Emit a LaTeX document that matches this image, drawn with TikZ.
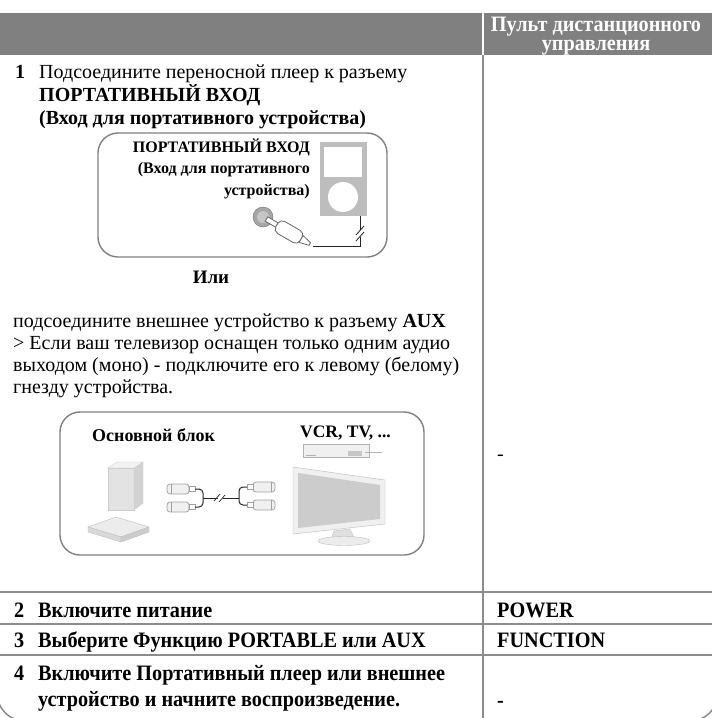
\documentclass[tikz,border=0pt]{standalone}
\usepackage{fontspec}
\setmainfont{Liberation Serif}
\newfontfamily\narrowserif[FakeStretch=0.92]{Liberation Serif}
\usetikzlibrary{positioning,calc}

\definecolor{barfill}{HTML}{808080}
\definecolor{rulegray}{HTML}{8C8C8C}
\definecolor{devgray}{HTML}{BDBDBD}

\tikzset{
  txt/.style={inner sep=0pt, anchor=base west, font=\fontsize{20}{23}\selectfont},
  txtb/.style={txt, font=\fontsize{20}{23}\selectfont\bfseries},
  rowtxt/.style={txt, font=\fontsize{22}{25}\narrowserif\bfseries},
  hdrtxt/.style={inner sep=0pt, anchor=base, text=white, font=\fontsize{22}{25}\narrowserif\bfseries},
  boxtxt/.style={inner sep=0pt, anchor=base east, font=\fontsize{16}{18}\selectfont\bfseries},
  captxt/.style={inner sep=0pt, anchor=base west, font=\fontsize{18}{20}\selectfont\bfseries},
  tabrule/.style={draw=rulegray, line width=1.5pt},
  panel/.style={draw=gray, line width=1.4pt, rounded corners=20pt},
  cable/.style={draw=black!85, line width=1pt},
  plugpart/.style={draw=gray!80!black, fill=white, line width=0.8pt},
  rcabody/.style={draw=gray!75, fill=gray!12, line width=0.7pt, rounded corners=3pt},
}

\begin{document}
\begin{tikzpicture}[x=1pt, y=-1pt]
\useasboundingbox (0,0) rectangle (712,718);

% header
\fill[barfill] (0,13) rectangle (712,55);
\draw[white, line width=1.5pt] (483,13) -- (483,55);
\node[hdrtxt] (remote) at (596,31) {Пульт дистанционного};
\node[hdrtxt] (remote2) at (596,50) {управления};

% table
\draw[tabrule] (483,55) -- (483,718);
\foreach \y in {592,624,655}
  \draw[tabrule] (0,\y) -- (712,\y);
\draw[tabrule, rounded corners=28pt] (-3,640) -- (-3,721) -- (718,721) -- (718,640);

% step 1
\node[txtb] (n1) at (15,78) {1};
\node[txt] (s1a) at (39,78) {Подсоедините переносной плеер к разъему};
\node[txtb] (s1b) at (39,101) {ПОРТАТИВНЫЙ ВХОД};
\node[txtb] (s1c) at (39,124) {(Вход для портативного устройства)};

\draw[panel] (98,133) rectangle (387,257);
\node[boxtxt] (p1) at (310,152) {ПОРТАТИВНЫЙ ВХОД};
\node[boxtxt] (p2) at (310,173) {(Вход для портативного};
\node[boxtxt] (p3) at (310,195) {устройства)};

\node[fill=devgray, minimum width=47pt, minimum height=74pt, inner sep=0pt] (player) at (343.5,179) {};
\fill[white] (324,147) rectangle (362,177);
\fill[white] (343,197) circle (15);
\coordinate (pin) at ($(player.south east)+(-7,0)$);

\node[circle, fill=gray!70, draw=gray!90!black, minimum size=20pt, inner sep=0pt] (jack) at (263,217) {};
\fill[gray!45] (jack.center) circle (6);
\begin{scope}[shift={(jack.center)}, rotate=-30]
  \draw[plugpart] (4,-2.5) rectangle (16,2.5);
  \draw[plugpart, rounded corners=5pt] (16,-7) rectangle (44,7);
  \draw[plugpart] (44,-4) -- (54,-1.5) -- (54,1.5) -- (44,4) -- cycle;
  \coordinate (plugend) at (58,0);
\end{scope}
\draw[cable] (plugend) -| (pin);
\fill[white] (357,230) rectangle (363,237);
\draw[cable, line width=0.8pt] (356,235) -- (364,226) (356,241) -- (364,232);

\node[inner sep=0pt, anchor=base, font=\fontsize{19}{22}\selectfont\bfseries] (ili) at (211,283) {Или};

\node[txt] (q1) at (13,327) {подсоедините внешнее устройство к разъему \textbf{AUX}};
\node[txt] (q2) at (13,349) {> Если ваш телевизор оснащен только одним аудио};
\node[txt] (q3) at (13,371) {выходом (моно) - подключите его к левому (белому)};
\node[txt] (q4) at (13,393) {гнезду устройства.};

% aux panel
\draw[panel] (60,412) rectangle (424,555);
\node[captxt] (unit) at (92,441) {Основной блок};
\node[captxt, font=\fontsize{17.5}{20}\selectfont\bfseries] (vcrtv) at (300,437) {VCR, TV, ...};

\filldraw[fill=gray!22, draw=gray!40] (108,468) rectangle (134,510);
\filldraw[fill=gray!35, draw=gray!40] (134,468) -- (143,462) -- (143,503) -- (134,510) -- cycle;
\filldraw[fill=gray!10, draw=gray!40] (108,468) -- (117,462) -- (143,462) -- (134,468) -- cycle;
\filldraw[fill=gray!15, draw=gray!50] (88,527) -- (116,517) -- (149,527) -- (121,537) -- cycle;
\filldraw[fill=gray!30, draw=gray!50] (88,527) -- (121,537) -- (121,542) -- (88,532) -- cycle;
\filldraw[fill=gray!40, draw=gray!50] (121,537) -- (149,527) -- (149,532) -- (121,542) -- cycle;

\foreach \y/\nm in {489/lp1, 507/lp2} {
  \draw[rcabody] (167,\y-5) rectangle (189,\y+5);
  \draw[gray!75, line width=0.7pt] (171,\y-5) -- (171,\y+5);
  \draw[gray!75, fill=white, line width=0.7pt] (189,\y-2.5) rectangle (195,\y+2.5);
  \coordinate (\nm) at (195,\y);
}
\foreach \y/\nm in {487/rp1, 505/rp2} {
  \draw[rcabody] (253,\y-5) rectangle (275,\y+5);
  \draw[gray!75, line width=0.7pt] (271,\y-5) -- (271,\y+5);
  \draw[gray!75, fill=white, line width=0.7pt] (247,\y-2.5) rectangle (253,\y+2.5);
  \coordinate (\nm) at (247,\y);
}
\coordinate (lj) at (203,498);
\coordinate (rj) at (239,496);
\draw[cable, rounded corners=4pt] (lp1) -| (lj) |- (lp2);
\draw[cable, rounded corners=4pt] (rp1) -| (rj) |- (rp2);
\draw[cable] (lj) -- (rj |- lj);
\fill[white] (218,494) rectangle (223,502);
\draw[cable, line width=0.7pt] (214,501) -- (220,494) (219,502) -- (225,495);

\node[draw=gray!60, fill=gray!12, minimum width=66pt, minimum height=13pt, inner sep=0pt] (vcr) at (336,451) {};
\fill[gray!45] (348,451) rectangle (362,456);
\draw[gray!60] (306,455) -- (316,455) (365,452) -- (382,452);

\filldraw[fill=gray!12, draw=gray!55] (293,467) -- (385,480) -- (385,524) -- (293,534) -- cycle;
\fill[gray!40] (298,473) -- (380,485) -- (380,519) -- (298,528) -- cycle;
\filldraw[fill=gray!25, draw=gray!50] (334,531) -- (350,529) -- (354,537) -- (331,539) -- cycle;
\filldraw[fill=gray!15, draw=gray!50] (344,541) ellipse (26 and 4.5);

% right column
\node[txt] (r1) at (497,460) {-};
\node[rowtxt] (r2) at (497,617) {POWER};
\node[rowtxt] (r3) at (497,647) {FUNCTION};
\node[rowtxt] (r4) at (497,707) {-};

% steps 2-4
\node[rowtxt] (n2) at (14,617) {2};
\node[rowtxt] (s2) at (38,617) {Включите питание};
\node[rowtxt] (n3) at (14,647) {3};
\node[rowtxt] (s3) at (38,647) {Выберите Функцию PORTABLE или AUX};
\node[rowtxt] (n4) at (14,680) {4};
\node[rowtxt] (s4a) at (38,680) {Включите Портативный плеер или внешнее};
\node[rowtxt] (s4b) at (38,706) {устройство и начните воспроизведение.};
\end{tikzpicture}
\end{document}
